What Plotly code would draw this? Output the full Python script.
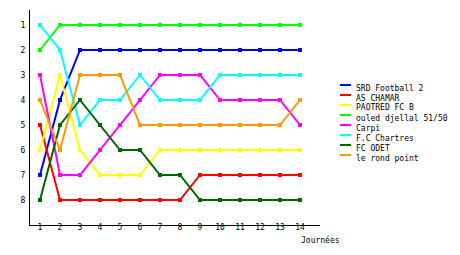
import plotly.graph_objects as go

journees = list(range(1, 15))
teams = ["SRD Football 2", "AS CHAMAR", "PAOTRED FC B", "ouled djellal 51/50",
         "Carpi", "F.C Chartres", "FC ODET", "le rond point"]
ranks = {
    "SRD Football 2":      [7, 4, 2, 2, 2, 2, 2, 2, 2, 2, 2, 2, 2, 2],
    "AS CHAMAR":           [5, 8, 8, 8, 8, 8, 8, 8, 7, 7, 7, 7, 7, 7],
    "PAOTRED FC B":        [6, 3, 6, 7, 7, 7, 6, 6, 6, 6, 6, 6, 6, 6],
    "ouled djellal 51/50": [2, 1, 1, 1, 1, 1, 1, 1, 1, 1, 1, 1, 1, 1],
    "Carpi":               [3, 7, 7, 6, 5, 4, 3, 3, 3, 4, 4, 4, 4, 5],
    "F.C Chartres":        [1, 2, 5, 4, 4, 3, 4, 4, 4, 3, 3, 3, 3, 3],
    "FC ODET":             [8, 5, 4, 5, 6, 6, 7, 7, 8, 8, 8, 8, 8, 8],
    "le rond point":       [4, 6, 3, 3, 3, 5, 5, 5, 5, 5, 5, 5, 5, 4],
}
colors = ["#0000ff", "#ff0000", "#ffff00", "#00ff00", "#ff00ff", "#00ffff", "#006600", "#ff9900"]
y_ticks = list(range(1, 9))
x_title = "Journées"

FONT = "DejaVu Sans Mono"

fig = go.Figure()
for t, c in zip(teams, colors):
    fig.add_trace(go.Scatter(x=journees, y=ranks[t], mode="lines+markers", name=t,
                             line=dict(color=c, width=2),
                             marker=dict(symbol="square", size=4, color=c),
                             showlegend=False))

# manual legend
L, R, T, B = 30, 140, 10, 30
pw, ph = 460 - L - R, 255 - T - B
def px(x): return (x - L) / pw
def py(y): return (255 - B - y) / ph

shapes = []
annotations = []
for i, (t, c) in enumerate(zip(teams, colors)):
    yl = 85 + 10 * i
    shapes.append(dict(type="line", xref="paper", yref="paper",
                       x0=px(340), x1=px(351), y0=py(yl), y1=py(yl),
                       line=dict(color=c, width=2)))
    annotations.append(dict(text=t, xref="paper", yref="paper", x=px(354), y=py(yl + 3),
                            xanchor="left", yanchor="middle", showarrow=False,
                            font=dict(family=FONT, size=8, color="black")))
annotations.append(dict(text=x_title, xref="paper", yref="paper", x=px(299), y=py(240),
                        xanchor="left", yanchor="middle", showarrow=False,
                        font=dict(family=FONT, size=8, color="black")))

fig.update_layout(
    width=460, height=255,
    margin=dict(l=L, r=R, t=T, b=B),
    paper_bgcolor="white", plot_bgcolor="white",
    font=dict(family=FONT, size=8, color="black"),
    shapes=shapes, annotations=annotations,
    xaxis=dict(range=[0.5, 15], tickmode="array", tickvals=journees,
               showgrid=False, zeroline=False, showline=True, linecolor="black",
               linewidth=1, ticks="", ticklabelstandoff=-6),
    yaxis=dict(range=[9.0, 0.4], tickmode="array", tickvals=y_ticks,
               showgrid=False, zeroline=False, showline=True, linecolor="black",
               linewidth=1, ticks="", ticklabelstandoff=2),
)
fig.write_html("out.html")
